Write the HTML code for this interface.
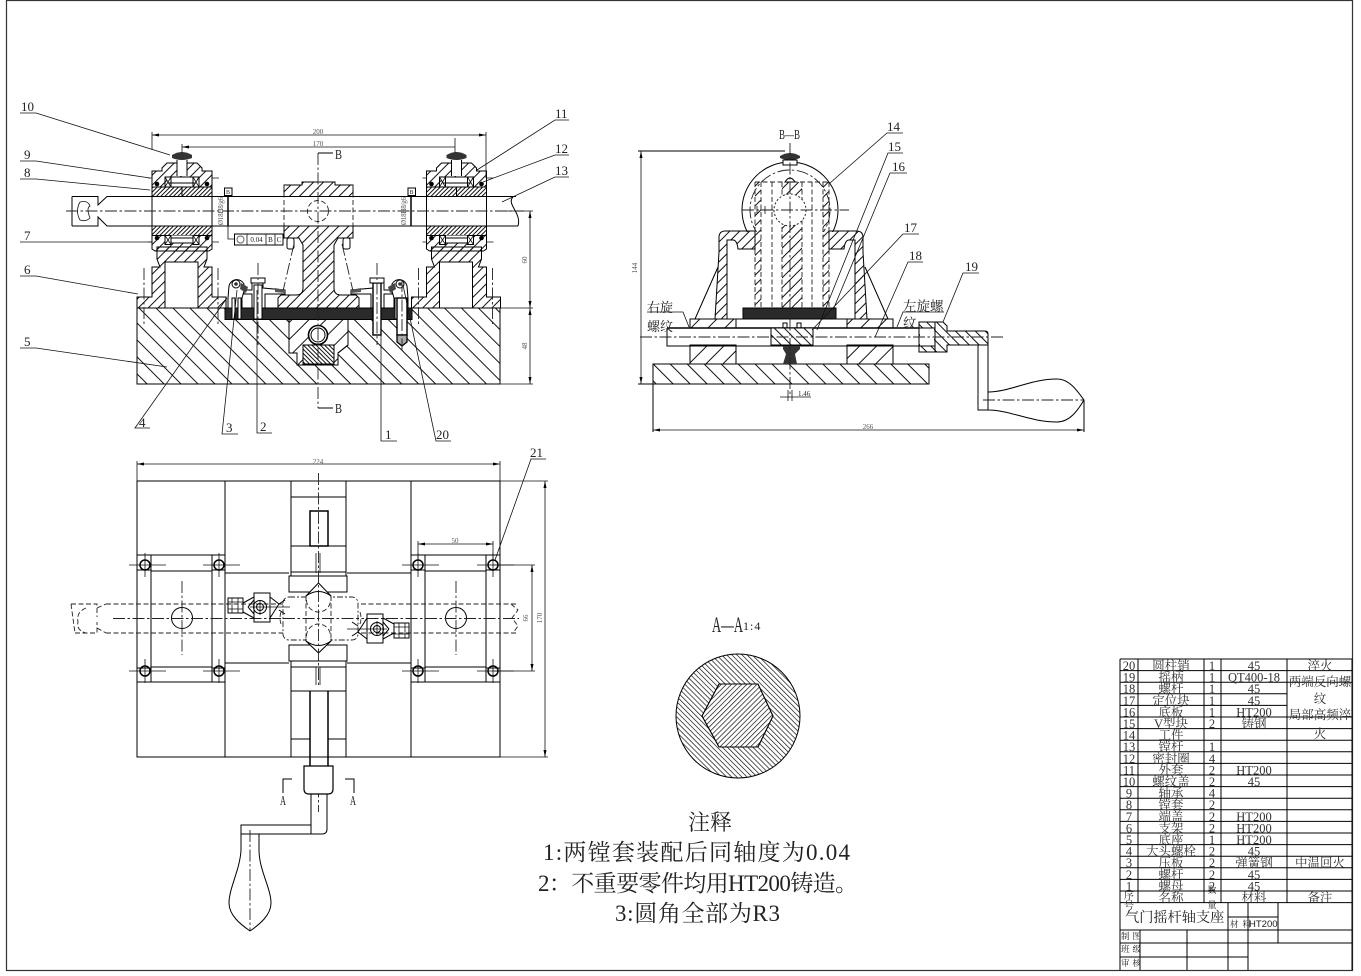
<!DOCTYPE html>
<html><head><meta charset="utf-8"><style>
html,body{margin:0;padding:0;background:#fff;width:1361px;height:976px;overflow:hidden}
svg{display:block}
.l{fill:none;stroke:#000;stroke-width:1}
.t{fill:none;stroke:#000;stroke-width:1.5}
.c{fill:none;stroke:#222;stroke-width:.9;stroke-dasharray:12 2.5 2.5 2.5}
.d{fill:none;stroke:#222;stroke-width:.9;stroke-dasharray:5 2.5}
.m{fill:none;stroke:#111;stroke-width:.8}
text{font-family:"Liberation Serif","Noto Serif CJK SC",serif;fill:#222}
.n{font-size:13px}
.s{font-size:7px;fill:#555;text-anchor:middle}
.tb{font-size:12.5px;text-anchor:middle;fill:#333}
</style></head><body>
<svg width="1361" height="976" viewBox="0 0 1361 976" xmlns="http://www.w3.org/2000/svg">
<defs>
<pattern id="b" width="12" height="12" patternUnits="userSpaceOnUse" patternTransform="rotate(-45)"><rect width="1" height="12" fill="#111"/></pattern>
<pattern id="f" width="12" height="12" patternUnits="userSpaceOnUse" patternTransform="rotate(45)"><rect width="1" height="12" fill="#111"/></pattern>
<pattern id="a" width="7" height="7" patternUnits="userSpaceOnUse" patternTransform="rotate(45)"><rect width="1" height="7" fill="#111"/></pattern>
<pattern id="a2" width="7" height="7" patternUnits="userSpaceOnUse" patternTransform="rotate(-45)"><rect width="1" height="7" fill="#111"/></pattern>
<pattern id="dn" width="3" height="3" patternUnits="userSpaceOnUse" patternTransform="rotate(45)"><rect width="1" height="3" fill="#111"/></pattern>
<pattern id="dn2" width="3" height="3" patternUnits="userSpaceOnUse" patternTransform="rotate(-45)"><rect width="1" height="3" fill="#111"/></pattern>
<pattern id="aa" width="3.6" height="3.6" patternUnits="userSpaceOnUse" patternTransform="rotate(-45)"><rect width=".7" height="3.6" fill="#111"/></pattern>
<pattern id="ah" width="3.6" height="3.6" patternUnits="userSpaceOnUse" patternTransform="rotate(45)"><rect width=".7" height="3.6" fill="#111"/></pattern>
<g id="sup">
<path class="l" style="fill:url(#a)" d="M157,247H207V259L204,267H212V297H226V308H198V262H165V308H137V297H152V267H160L157,259Z"/>
<path class="c" d="M144,268V326M218,268V326"/>
<!-- housing -->
<path class="l" style="fill:url(#a)" d="M167,163H197L202,168V171H212V187H152V171H162V168Z"/>
<rect class="l" x="152" y="187" width="60" height="9.5" style="fill:url(#dn)"/>
<rect x="167" y="177" width="30" height="10" fill="#fff"/>
<path class="l" d="M168,177H196M168,187H196M168,183H196"/>
<rect x="177" y="160" width="10" height="16" fill="#fff"/>
<path class="l" d="M177,160V176M187,160V176M182,187V196"/>
<path d="M172,155Q182,149 192,155V158Q182,162 172,158Z" fill="#333"/>
<rect class="l" x="165" y="177" width="6" height="10" fill="#fff"/>
<rect class="l" x="193" y="177" width="6" height="10" fill="#fff"/>
<path class="m" d="M165,177L171,187M171,177L165,187M193,177L199,187M199,177L193,187"/>
<circle cx="157" cy="184" r="2.3" fill="#000"/><circle cx="207" cy="184" r="2.3" fill="#000"/>
<rect class="l" x="152" y="226" width="60" height="9.5" style="fill:url(#dn)"/>
<path class="l" style="fill:url(#a)" d="M152,235.500H212V249L209,251H155L152,249Z"/>
<rect x="165" y="235.500" width="34" height="8" fill="#fff"/>
<path class="l" d="M171,238H193M171,243H193M171,235.500V243M193,235.500V243"/>
<rect class="l" x="165" y="235.500" width="6" height="9" fill="#fff"/>
<rect class="l" x="193" y="235.500" width="6" height="9" fill="#fff"/>
<path class="m" d="M165,235.500L171,244.500M171,235.500L165,244.500M193,235.500L199,244.500M199,235.500L193,244.500"/>
<circle cx="157" cy="238" r="2.3" fill="#000"/><circle cx="207" cy="238" r="2.3" fill="#000"/>
<path class="l" d="M152,196.500V226M212,196.500V226"/>
<path class="m" d="M148,178H152M212,178H219M148,242H152M212,242H219"/>
</g>
<g id="clampT">
<path class="l" d="M243,603L254,597M243,612L254,618M248,607L254,600M248,607L254,614M270,597L279,604L270,618M279,604L285,600M279,610L285,614"/>
<rect class="l" x="228" y="598" width="15" height="15" fill="#fff"/>
<path class="m" d="M232,598V613M238,598V613M228,602H243M228,609H243"/>
<rect class="l" x="254" y="593" width="16" height="29" fill="#fff"/>
<circle class="l" cx="260" cy="607" r="6.500"/><circle class="l" cx="260" cy="607" r="3.500"/>
<path class="m" d="M260,600V615M250,607H290"/>
</g>
<g id="bolt"><circle class="t" cx="0" cy="0" r="5"/><path class="m" d="M-16,0H21M0,-12V12"/></g>
</defs>
<rect width="1361" height="976" fill="#fff"/>
<rect x="6.500" y="0.500" width="1346" height="970" fill="none" stroke="#333" stroke-width="1.200"/>

<!-- FRONT VIEW -->
<rect class="l" x="137" y="308" width="363" height="76" style="fill:url(#b)"/>
<path class="l" fill="#fff" d="M289,319H348V345L338,353V365H297V353H289Z" style="fill:#fff"/>
<path class="l" style="fill:url(#f)" d="M289,319H348V345L338,353V365H297V353H289Z"/>
<rect class="l" x="303" y="345" width="31" height="19" style="fill:#fff"/>
<rect class="l" x="303" y="345" width="31" height="19" style="fill:url(#dn2)"/>
<circle cx="318" cy="335" r="9.500" fill="#fff" stroke="#000" stroke-width="1.600"/><circle class="l" cx="318" cy="335" r="7"/>
<rect x="225" y="308" width="187" height="11.500" fill="#2a2a2a" stroke="#000"/>
<use href="#sup"/><use href="#sup" x="274.500"/>
<path class="l" d="M72,196.500H98V205L107,196.500H516M72,226H98V217L107,226H518M72,196.500V226"/>
<path class="m" d="M80,202Q75,211 80,220M80,202Q88,200 90,206Q86,208 90,218Q86,222 80,220"/>
<path class="l" d="M513,197C506,204 522,213 518,226"/>
<path class="c" d="M66,211H524"/>
<!-- central block -->
<path class="l" style="fill:url(#a)" d="M284,185H302V182H335V185H353V196.500H284Z"/>
<path class="l" style="fill:url(#a)" d="M284,226H353V238H338L334,245V288Q334,295 341,295H356L359,298V308H278V298L281,295H296Q303,295 303,288V245L299,238H284Z"/>
<path class="d" d="M284,185V226M353,185V226"/>
<circle class="d" cx="318" cy="211" r="10.500"/>
<rect class="l" x="287" y="238" width="7" height="11" rx="2" style="fill:#fff"/><rect class="l" x="343" y="238" width="7" height="11" rx="2" style="fill:#fff"/>
<path class="c" d="M294,244L283,291M342,244L353,291"/>
<!-- section line -->
<path class="c" d="M318,153V408"/>
<path class="l" stroke-width="1.200" d="M318,153H333M318,408H333"/>
<text x="335" y="159" font-size="14" textLength="7" lengthAdjust="spacingAndGlyphs" fill="#555">B</text><text x="335" y="413" font-size="14" textLength="7" lengthAdjust="spacingAndGlyphs" fill="#555">B</text>
<!-- clamps / bolts -->
<g id="lc">
<path class="l" style="fill:#fff" d="M244,290H252V283H263V288L285,290V294H265V308H252V294H244Z"/>
<path d="M275,288L285,290L285,293L275,292Z" fill="#555"/>
<path class="l" style="fill:#fff" d="M228,308V298L229,286A8,8 0 0 1 244,284L244,291L242,298V308Z"/>
<circle class="l" cx="236" cy="284" r="4" stroke-width="1.500"/><circle cx="236" cy="284" r="1.800" fill="#333"/>
<path d="M241,283L248,287L246,293L240,289Z" fill="#444"/>
<rect class="l" x="232" y="298" width="3" height="21" style="fill:#fff"/><rect class="l" x="238" y="298" width="3" height="21" style="fill:#fff"/>
</g>
<use href="#lc" transform="matrix(-1 0 0 1 636 0)"/>
<rect class="l" x="254" y="285" width="8" height="34" style="fill:#fff"/>
<path class="l" style="fill:#fff" d="M251,283H265V278H251Z"/><path class="c" d="M258,263V345"/>
<rect class="l" x="373" y="283" width="8" height="52" style="fill:#fff;stroke-width:1.400"/>
<path class="l" style="fill:#fff" d="M370,283H384V278H370Z"/><path class="c" d="M377,263V345"/>
<rect class="l" x="397" y="298" width="10" height="37" style="fill:#fff;stroke-width:1.400"/>
<path class="l" style="fill:#aaa;stroke-width:1.300" d="M397,335H407V342L402,346L397,342Z"/>
<path class="c" d="M402,280V350"/>
<!-- dims -->
<path class="m" d="M152,132V150M486,132V178M152,135H486M182,144V153M455,138V153M182,147H455M505,211H533M500,308H533M500,384H533M530,211V384"/>
<path d="M152,135l7,-1.500v3zM486,135l-7,-1.500v3zM182,147l7,-1.500v3zM530,211l-1.500,7h3zM530,308l-1.500,-7h3zM530,308l-1.500,7h3zM530,384l-1.500,-7h3z" fill="#000"/>
<text class="s" x="318" y="134">200</text><text class="s" x="318" y="146">170</text>
<text class="s" transform="rotate(-90 527 260)" x="527" y="260">60</text>
<text class="s" transform="rotate(-90 527 346)" x="527" y="346">48</text>
<!-- tolerance -->
<rect class="l" x="224.500" y="188" width="7.500" height="7.500" style="fill:#fff"/><path class="t" d="M228,195.500V226"/><path class="m" d="M228,226V239H234"/>
<rect class="l" x="408" y="188" width="7.500" height="7.500" style="fill:#fff"/><path class="t" d="M411,195.500V226"/>
<text x="226" y="194" font-size="6" fill="#555">B</text><text x="409.500" y="194" font-size="6" fill="#555">B</text>
<text class="s" transform="rotate(-90 223 211)" x="223" y="211" textLength="28">Ø18H8/g6</text>
<text class="s" transform="rotate(-90 406 211)" x="406" y="211" textLength="28">Ø18H8/g6</text>
<rect class="l" x="234.500" y="234" width="48.500" height="11" style="fill:#fff"/><path class="m" d="M247,234V245M266,234V245M275,234V245"/>
<circle cx="240.500" cy="239.500" r="3.500" fill="none" stroke="#666"/>
<text x="256.500" y="242" font-size="7" text-anchor="middle" fill="#444">0.04</text>
<text x="270.500" y="242" font-size="7" text-anchor="middle" fill="#444">B</text><text x="279" y="242" font-size="7" text-anchor="middle" fill="#444">C</text>
<!-- leaders -->
<path class="m" d="M20,113H36L170,155M20,161H36L150,178M20,179H36L150,190M20,242H152M20,276H36L138,294M20,348H36L167,367M150,428H135L227,298M238,434H222L237,290M272,433H257V290M397,441H381V290M451,441H436L403,285M569,120H555L477,170M569,155H555L483,182M569,177H555L502,202"/>
<g class="n">
<text class="n" x="21" y="111">10</text><text class="n" x="24" y="159">9</text><text class="n" x="24" y="177">8</text><text class="n" x="24" y="240">7</text><text class="n" x="24" y="274">6</text><text class="n" x="24" y="346">5</text>
<text class="n" x="139" y="427">4</text><text class="n" x="226" y="432">3</text><text class="n" x="260" y="431">2</text><text class="n" x="385" y="439">1</text><text class="n" x="436" y="439">20</text>
<text class="n" x="555" y="118">11</text><text class="n" x="555" y="153">12</text><text class="n" x="555" y="175">13</text>
</g>

<!-- SECTION B-B -->
<text x="779" y="139" font-size="14" textLength="21" lengthAdjust="spacingAndGlyphs" fill="#444">B—B</text>
<circle class="l" cx="790" cy="210" r="48" stroke-width="1.200"/>
<circle class="c" cx="790" cy="210" r="40"/>
<rect x="738" y="232" width="104" height="30" fill="#fff"/>
<rect class="l" x="653" y="364" width="276" height="20" style="fill:url(#b)"/>
<rect class="l" x="690" y="345" width="46" height="19" style="fill:url(#f)"/><rect class="l" x="847" y="345" width="46" height="19" style="fill:url(#f)"/>
<rect class="l" x="690" y="319" width="46" height="9" style="fill:url(#f)"/><rect class="l" x="847" y="319" width="46" height="9" style="fill:url(#f)"/>
<path class="l" d="M736,319H847"/>
<!-- support -->
<path class="l" style="fill:url(#a)" d="M725,231H755V249H738Q737,240 733,240H727V319H715L719,252V236Q720,231 725,231Z"/>
<path class="l" style="fill:url(#a)" d="M857,231H829V249H844Q845,240 849,240H855V319H867L863,252V236Q862,231 857,231Z"/>
<path class="l" d="M718,267L695,319M865,267L888,319"/>
<!-- column -->
<rect x="755" y="182" width="6" height="126" style="fill:url(#a)"/>
<rect x="823" y="182" width="6" height="126" style="fill:url(#a)"/>
<rect x="782" y="224" width="20" height="84" style="fill:url(#a)"/>
<rect x="782" y="182" width="20" height="13" style="fill:url(#a)"/>
<path class="d" d="M755,182V308M761,182V308M823,182V308M829,182V308M782,182V308M802,182V308M772,182V308M812,182V308M755,182H829"/>
<path class="l" style="fill:#fff" d="M785,182Q790,174 795,182Z"/>
<circle fill="#fff" stroke="#222" stroke-dasharray="2 2" cx="790" cy="210" r="16"/>
<path class="c" d="M742,210H849"/>
<path class="m" d="M761,210H772M757,206V214M765,206V214"/>
<rect x="743" y="308" width="93" height="11" fill="#2a2a2a" stroke="#000"/>
<!-- screw -->
<path class="t" d="M667,328H919"/>
<path class="l" d="M667,328V346H919"/>
<rect class="l" x="771" y="328" width="42" height="17" style="fill:#fff"/><rect class="l" x="771" y="328" width="42" height="17" style="fill:url(#a2)"/>
<path class="l" d="M783,328V323H787V328M797,328V323H801V328"/>
<path d="M783,346H800V349L795,354L797,364H783L786,354L783,349Z" fill="#333"/>
<path class="l" d="M653,384V432M1084,400V432M638,151H785M638,384H655"/>
<path d="M641,151l-1.500,7h3zM641,384l-1.500,-7h3zM653,430l7,-1.500v3zM1084,430l-7,-1.500v3z" fill="#000"/>
<path class="m" d="M641,151V384M653,430H1084M780,397H811M788,390V401M792,390V401"/>
<text class="s" x="868" y="429">266</text>
<text class="s" transform="rotate(-90 637 268)" x="637" y="268">144</text>
<text x="798" y="396" font-size="7" fill="#444">1.46</text>
<!-- knob -->
<path d="M780,156Q790,150 800,156V158Q790,162 780,158Z" fill="#333"/>
<rect class="l" x="783" y="160" width="14" height="5" style="fill:#fff"/>
<path class="c" d="M790,143V396"/>
<!-- handle -->
<path class="l" style="fill:url(#a2)" d="M919,322H943L947,326V331H985Q988,331 988,334V345H947V352H919Z"/>
<rect x="920" y="328" width="14" height="18" fill="#fff"/>
<path class="l" d="M919,328H935M919,346H935M935,322V352"/>
<path class="l" d="M978,345V410H988V345M988,392C1010,392 1030,379 1057,379C1070,379 1078,392 1084,400C1078,410 1070,422 1057,422C1030,422 1010,410 988,410"/>
<path class="c" d="M640,337H1003"/><path class="c" d="M983,400H1084"/>
<!-- labels -->
<path class="m" d="M903,133H887L830,183M903,153H888L817,330M907,173H890L833,310M919,234H903L812,330M923,262H908L875,337M979,273H963L943,322"/>
<path class="m" d="M647,312H683L689,327M944,312H903L897,327"/>
<g>
<text class="n" x="887" y="131">14</text><text class="n" x="888" y="151">15</text><text class="n" x="892" y="171">16</text>
<text class="n" x="904" y="232">17</text><text class="n" x="909" y="260">18</text><text class="n" x="965" y="271">19</text>
<text x="647" y="312" font-size="13">右旋</text><text x="647" y="331" font-size="13">螺纹</text>
<text x="903" y="311" font-size="13.500">左旋螺</text><text x="903" y="328" font-size="13.500">纹</text>
</g>

<!-- TOP VIEW -->
<rect class="l" x="137" y="481" width="363" height="276" stroke-width="1.200"/>
<path class="l" d="M225,481V757M411,481V757M291,481V576M346,481V576M291,661V757M346,661V757M291,497H346M291,546H346M225,573H289M347,573H411M225,663H289M347,663H411M291,691H346M291,739H310M328,739H346"/>
<rect class="l" x="289" y="576" width="58" height="16" style="fill:#fff"/><rect class="l" x="289" y="645" width="58" height="16" style="fill:#fff"/>
<path class="l" d="M291,572H346M291,576H346M291,661H346M291,667H346"/>
<rect class="t" x="310" y="511" width="18" height="35"/>
<path class="t" d="M310,691V767M328,691V767"/>
<path class="m" d="M316,553V573M320,553V573M316,667V685M320,667V685"/>
<!-- plates -->
<path class="l" d="M137,555H225M137,682H225M151,555V682M212,555V682M151,571H212M151,667H212M137,570H151M212,570H225M137,668H151M212,668H225"/>
<path class="l" d="M411,555H500M411,682H500M425,555V682M486,555V682M425,571H486M425,667H486M411,570H425M486,570H500M411,668H425M486,668H500"/>
<use href="#bolt" x="145" y="565"/><use href="#bolt" x="219" y="565"/><use href="#bolt" x="145" y="671"/><use href="#bolt" x="219" y="671"/>
<use href="#bolt" x="418" y="565"/><use href="#bolt" x="493" y="565"/><use href="#bolt" x="418" y="671"/><use href="#bolt" x="493" y="671"/>
<circle class="l" cx="182" cy="618" r="10.500"/><circle class="l" cx="456" cy="618" r="10.500"/>
<path class="c" d="M182,581V655M456,581V655"/>
<!-- shaft -->
<path class="d" d="M106,604H518M106,633H518" stroke-width="1.100"/>
<path class="c" d="M113,618.500H519"/>
<path class="d" d="M71,604H97V617M75,633H97V622M71,604L75,633M97,608L106,604M97,628L106,633M86,608Q76,612 78,622Q76,630 86,633"/>
<path class="d" d="M511,604L518,610L512,618L518,626L513,633"/>
<!-- central -->
<rect x="283" y="597" width="75" height="43" rx="6" fill="#fff" stroke="#222" stroke-width=".9" stroke-dasharray="6 2 2 2"/>
<path class="d" stroke-dasharray="2 2" d="M281,612Q279,618 281,624M360,612Q362,618 360,624"/>
<path class="l" style="fill:#fff" d="M306,596L318.500,583L331,596V641L318.500,653L306,641Z"/>
<rect x="305" y="598" width="27" height="41" fill="#fff"/>
<path class="l" d="M306,596Q318.500,587 331,596M306,641Q318.500,650 331,641"/>
<path class="d" stroke-dasharray="2 2" d="M306.500,600A12,12 0 0 0 330.500,600M306.500,636A12,12 0 0 1 330.500,636"/>
<path class="d" stroke-dasharray="6 2 2 2" d="M306,596V641M331,596V641"/>
<path class="c" d="M283,618.500H358"/>
<use href="#clampT"/><use href="#clampT" transform="rotate(180 318.500 618)"/>
<path class="c" d="M318.500,473V685"/><path class="c" d="M318.500,766V812"/>
<!-- handle -->
<path class="l" style="fill:#fff;stroke-width:1.200" d="M304,766H333V789Q333,794 328,794H309Q304,794 304,789Z"/>
<path class="l" d="M311,794V825H241V834H322Q327,834 327,829V794M311,825V834"/>
<path class="l" d="M241,834V850C240,870 229,888 229,903C229,915 240,924 250,931C260,924 271,915 271,903C271,888 259,870 259,850V834"/>
<path class="c" d="M250,830V931"/>
<path class="l" d="M292,779H283V793M345,779H354V793"/>
<text x="283" y="805" font-size="14" text-anchor="middle" textLength="6" lengthAdjust="spacingAndGlyphs" fill="#777">A</text><text x="353" y="805" font-size="14" text-anchor="middle" textLength="6" lengthAdjust="spacingAndGlyphs" fill="#777">A</text>
<!-- dims top -->
<path class="m" d="M137,461V481M500,461V481M137,464H500M500,481H548M493,565H535M493,671H535M532,565V671M545,481V757M500,757H548M418,541V560M493,541V560M418,544H493"/>
<path d="M137,464l7,-1.500v3zM500,464l-7,-1.500v3zM545,481l-1.500,7h3zM545,757l-1.500,-7h3zM532,565l-1.500,7h3zM532,671l-1.500,-7h3zM418,544l7,-1.500v3zM493,544l-7,-1.500v3z" fill="#000"/>
<text class="s" x="318" y="464">224</text><text class="s" x="455" y="543">50</text>
<text class="s" transform="rotate(-90 528 618)" x="528" y="618">66</text><text class="s" transform="rotate(-90 542 618)" x="542" y="618">170</text>
<path class="m" d="M546,459H531L495,560"/><text class="n" x="530" y="457">21</text>

<!-- A-A -->
<text x="712" y="632" font-size="22" textLength="31" lengthAdjust="spacingAndGlyphs" fill="#555">A—A</text>
<text x="743" y="630" font-size="12" fill="#555" letter-spacing="1">1:4</text>
<circle class="l" cx="738" cy="716" r="62" style="fill:url(#aa)"/>
<path class="l" style="fill:#fff" d="M719,684H758L773,716L758,747H719L702,716Z"/>
<path class="l" style="fill:url(#ah)" d="M719,684H758L773,716L758,747H719L702,716Z"/>

<!-- notes -->
<text x="710" y="830" font-size="22" text-anchor="middle" fill="#333">注释</text>
<text x="543" y="860" font-size="23" textLength="307" fill="#333">1:两镗套装配后同轴度为0.04</text>
<text x="538" y="891" font-size="23" textLength="320" fill="#333">2：不重要零件均用HT200铸造。</text>
<text x="615" y="921" font-size="23" textLength="165" fill="#333">3:圆角全部为R3</text>

<!-- TABLE -->
<path class="l" d="M1120,659H1352M1120,670.600H1352M1120,682.200H1352M1120,693.800H1287M1120,705.400H1287M1120,717H1352M1120,728.600H1352M1120,740.200H1352M1120,751.800H1352M1120,763.400H1352M1120,775H1352M1120,786.600H1352M1120,798.200H1352M1120,809.800H1352M1120,821.400H1352M1120,833H1352M1120,844.600H1352M1120,856.200H1352M1120,867.800H1352M1120,879.400H1352M1120,891H1352M1120,902.600H1352M1120,659V970M1138,659V902.600M1204,659V902.600M1221,659V902.600M1287,659V902.600M1352,659V970M1120,930H1352M1120,943H1352M1120,957H1248M1228,917H1278M1140,930V970M1187,930V970M1228,903V970M1248,903V970M1278,903V943"/>
<g class="tb">
<text class="tb" x="1129" y="670">20</text><text class="tb" x="1129" y="681.600">19</text><text class="tb" x="1129" y="693.200">18</text><text class="tb" x="1129" y="704.800">17</text><text class="tb" x="1129" y="716.400">16</text><text class="tb" x="1129" y="728">15</text><text class="tb" x="1129" y="739.600">14</text><text class="tb" x="1129" y="751.200">13</text><text class="tb" x="1129" y="762.800">12</text><text class="tb" x="1129" y="774.400">11</text><text class="tb" x="1129" y="786">10</text><text class="tb" x="1129" y="797.600">9</text><text class="tb" x="1129" y="809.200">8</text><text class="tb" x="1129" y="820.800">7</text><text class="tb" x="1129" y="832.400">6</text><text class="tb" x="1129" y="844">5</text><text class="tb" x="1129" y="855.600">4</text><text class="tb" x="1129" y="867.200">3</text><text class="tb" x="1129" y="878.800">2</text><text class="tb" x="1129" y="890.400">1</text>
<text x="1129" y="899" font-size="10" text-anchor="middle" fill="#333">序</text><text x="1129" y="909" font-size="10" text-anchor="middle" fill="#333">号</text>
<text class="tb" x="1171" y="670">圆柱销</text><text class="tb" x="1171" y="681.600">摇柄</text><text class="tb" x="1171" y="693.200">螺杆</text><text class="tb" x="1171" y="704.800">定位块</text><text class="tb" x="1171" y="716.400">底板</text><text class="tb" x="1171" y="728">V型块</text><text class="tb" x="1171" y="739.600">工件</text><text class="tb" x="1171" y="751.200">镗杆</text><text class="tb" x="1171" y="762.800">密封圈</text><text class="tb" x="1171" y="774.400">外套</text><text class="tb" x="1171" y="786">螺纹盖</text><text class="tb" x="1171" y="797.600">轴承</text><text class="tb" x="1171" y="809.200">镗套</text><text class="tb" x="1171" y="820.800">端盖</text><text class="tb" x="1171" y="832.400">支架</text><text class="tb" x="1171" y="844">底座</text><text class="tb" x="1171" y="855.600">大头螺栓</text><text class="tb" x="1171" y="867.200">压板</text><text class="tb" x="1171" y="878.800">螺杆</text><text class="tb" x="1171" y="890.400">螺母</text><text class="tb" x="1171" y="902">名称</text>
<text class="tb" x="1212" y="670">1</text><text class="tb" x="1212" y="681.600">1</text><text class="tb" x="1212" y="693.200">1</text><text class="tb" x="1212" y="704.800">1</text><text class="tb" x="1212" y="716.400">1</text><text class="tb" x="1212" y="728">2</text><text class="tb" x="1212" y="751.200">1</text><text class="tb" x="1212" y="762.800">4</text><text class="tb" x="1212" y="774.400">2</text><text class="tb" x="1212" y="786">2</text><text class="tb" x="1212" y="797.600">4</text><text class="tb" x="1212" y="809.200">2</text><text class="tb" x="1212" y="820.800">2</text><text class="tb" x="1212" y="832.400">2</text><text class="tb" x="1212" y="844">1</text><text class="tb" x="1212" y="855.600">2</text><text class="tb" x="1212" y="867.200">2</text><text class="tb" x="1212" y="878.800">2</text><text class="tb" x="1212" y="890.400">2</text>
<text x="1212" y="893" font-size="9" text-anchor="middle" fill="#333">数</text><text x="1212" y="908" font-size="9" text-anchor="middle" fill="#333">量</text>
<text class="tb" x="1254" y="670">45</text><text class="tb" x="1254" y="681.600">QT400-18</text><text class="tb" x="1254" y="693.200">45</text><text class="tb" x="1254" y="704.800">45</text><text class="tb" x="1254" y="716.400">HT200</text><text class="tb" x="1254" y="728">铸钢</text><text class="tb" x="1254" y="774.400">HT200</text><text class="tb" x="1254" y="786">45</text><text class="tb" x="1254" y="820.800">HT200</text><text class="tb" x="1254" y="832.400">HT200</text><text class="tb" x="1254" y="844">HT200</text><text class="tb" x="1254" y="855.600">45</text><text class="tb" x="1254" y="867.200">弹簧钢</text><text class="tb" x="1254" y="878.800">45</text><text class="tb" x="1254" y="890.400">45</text><text class="tb" x="1254" y="902">材料</text>
<text class="tb" x="1320" y="670">淬火</text><text class="tb" x="1320" y="686">两端反向螺</text><text class="tb" x="1320" y="703">纹</text><text class="tb" x="1320" y="719">局部高频淬</text><text class="tb" x="1320" y="738">火</text><text class="tb" x="1320" y="867.200">中温回火</text><text class="tb" x="1320" y="902">备注</text>
</g>
<text x="1125" y="922" font-size="14.200" fill="#333">气门摇杆轴支座</text>
<text x="1230" y="927" font-size="8.500" fill="#333" letter-spacing="4">材料</text>
<text x="1249" y="927" font-size="9.500" style="font-family:'Liberation Sans',sans-serif" fill="#222">HT200</text>
<text x="1121" y="939" font-size="8.500" letter-spacing="3" fill="#333">制图</text>
<text x="1121" y="952" font-size="8.500" letter-spacing="3" fill="#333">班级</text>
<text x="1121" y="966" font-size="8.500" letter-spacing="3" fill="#333">审核</text>
</svg>
</body></html>
